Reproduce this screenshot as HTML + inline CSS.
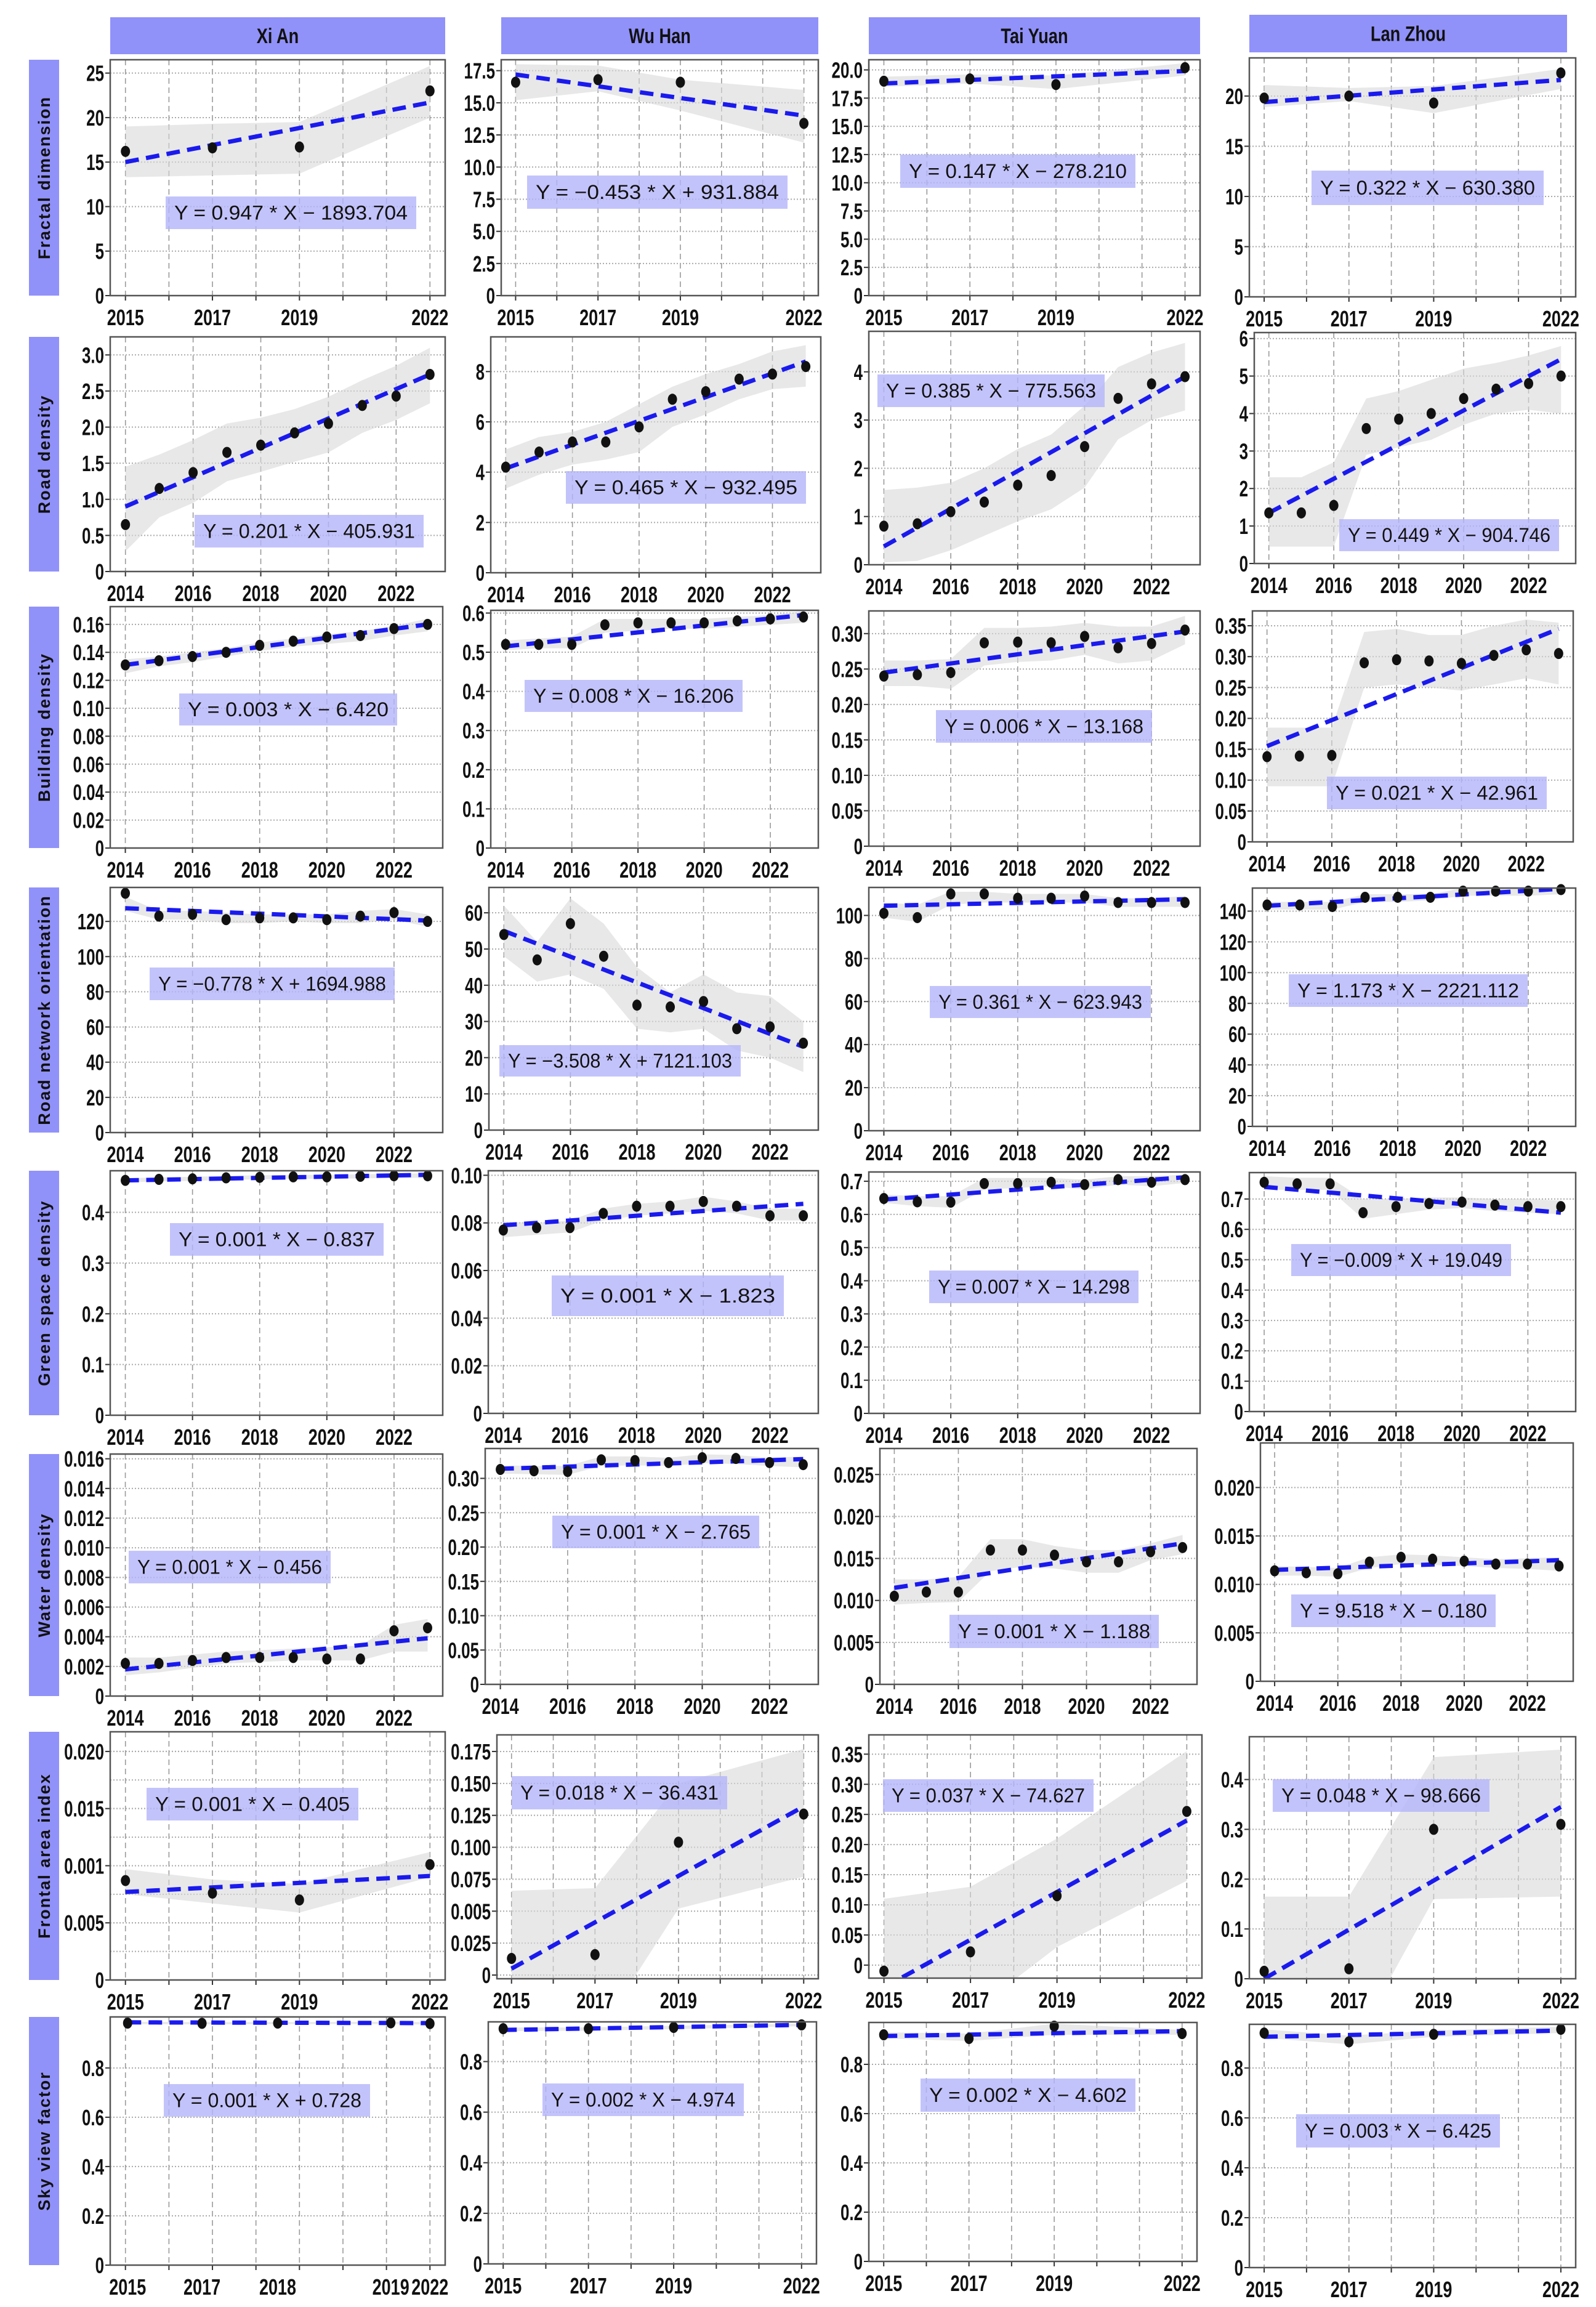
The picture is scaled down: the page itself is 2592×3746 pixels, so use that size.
<!DOCTYPE html>
<html><head><meta charset="utf-8"><title>Urban form indicators trends</title>
<style>
html,body{margin:0;padding:0;background:#fff;}
svg{display:block;}
.tk{font-family:"Liberation Sans",sans-serif;font-weight:bold;font-size:36px;fill:#111;}
.eq{font-family:"Liberation Sans",sans-serif;font-size:32px;fill:#111;}
.hd{font-family:"Liberation Sans",sans-serif;font-size:34px;fill:#111;font-weight:bold;}
.rl{font-family:"Liberation Sans","DejaVu Sans",sans-serif;font-size:27px;font-weight:bold;fill:#111;letter-spacing:2px;}
</style></head>
<body>
<svg id="fig" xmlns="http://www.w3.org/2000/svg" width="2592" height="3746" viewBox="0 0 2592 3746"></svg>
<script>
// ---------- data ----------
const cities = ['Xi An','Wu Han','Tai Yuan','Lan Zhou'];
const rowTitles = ['Fractal dimension','Road density','Building density','Road network orientation','Green space density','Water density','Frontal area index','Sky view factor'];
const yearsA = [2015,2017,2019,2022];
const yearsB = [2014,2015,2016,2017,2018,2019,2020,2021,2022,2023];
const yearTicksA = ['2015','2017','2019','2022'];
const yearTicksB = ['2014','2016','2018','2020','2022'];

// Fractal dimension
const fractalValues = [[16.2,16.6,16.7,23.0],[16.6,16.8,16.6,13.4],[19.0,19.2,18.7,20.2],[19.8,20.0,19.3,22.3]];
const fractalFit = [[15.0,21.7],[17.2,14.0],[18.8,19.9],[19.4,21.6]];
const fractalUpper = [[19.0,19.3,19.5,25.8],[18.0,17.9,16.8,16.0],[19.4,19.6,19.5,20.6],[21.1,20.8,21.0,22.7]];
const fractalLower = [[13.3,13.5,13.7,20.0],[15.2,15.9,14.4,11.9],[18.5,18.8,18.3,19.5],[18.9,19.5,18.3,20.7]];
const fractalEq = ['Y = 0.947 * X − 1893.704','Y = −0.453 * X + 931.884','Y = 0.147 * X − 278.210','Y = 0.322 * X − 630.380'];
const fractalTicks = [['0','5','10','15','20','25'],['0','2.5','5.0','7.5','10.0','12.5','15.0','17.5'],['0','2.5','5.0','7.5','10.0','12.5','15.0','17.5','20.0'],['0','5','10','15','20']];

// Road density
const roadValues = [[0.65,1.15,1.37,1.65,1.75,1.92,2.05,2.30,2.43,2.73],[4.2,4.8,5.2,5.2,5.8,6.9,7.2,7.7,7.9,8.2],[0.8,0.85,1.1,1.3,1.65,1.85,2.45,3.45,3.75,3.9],[1.35,1.35,1.55,3.6,3.85,4.0,4.4,4.65,4.8,5.0]];
const roadFit = [[0.90,2.73],[4.15,8.4],[0.38,3.9],[1.35,5.45]];
const roadUpper = [[1.45,1.62,1.82,2.05,2.13,2.25,2.42,2.65,2.85,3.1],[4.9,5.4,5.6,6.0,6.7,7.4,7.9,8.3,8.8,9.05],[1.55,1.6,1.7,2.0,2.4,2.7,3.3,4.1,4.4,4.6],[2.3,2.3,2.7,4.4,4.6,4.9,5.2,5.35,5.55,5.8]];
const roadLower = [[0.28,0.75,0.95,1.25,1.38,1.52,1.65,1.92,2.1,2.33],[3.35,3.9,4.3,4.5,4.8,5.8,6.3,6.9,7.3,7.4],[0.05,0.08,0.3,0.6,0.9,1.15,1.6,2.6,3.0,3.2],[0.45,0.45,0.45,2.9,3.1,3.3,3.7,4.0,4.1,4.0]];
const roadEq = ['Y = 0.201 * X − 405.931','Y = 0.465 * X − 932.495','Y = 0.385 * X − 775.563','Y = 0.449 * X − 904.746'];
const roadTicks = [['0','0.5','1.0','1.5','2.0','2.5','3.0'],['0','2','4','6','8'],['0','1','2','3','4'],['0','1','2','3','4','5','6']];

// Building density
const buildValues = [[0.131,0.134,0.137,0.140,0.145,0.148,0.151,0.152,0.157,0.160],[0.52,0.52,0.52,0.57,0.575,0.575,0.575,0.58,0.585,0.59],[0.24,0.242,0.245,0.287,0.288,0.287,0.296,0.28,0.286,0.305],[0.138,0.139,0.14,0.29,0.295,0.293,0.289,0.302,0.311,0.305]];
const buildFit = [[0.131,0.160],[0.515,0.595],[0.245,0.303],[0.155,0.345]];
const buildUpper = [[0.135,0.137,0.140,0.143,0.147,0.150,0.153,0.155,0.159,0.164],[0.53,0.535,0.54,0.585,0.585,0.585,0.585,0.59,0.595,0.605],[0.262,0.262,0.264,0.308,0.308,0.31,0.315,0.31,0.31,0.325],[0.185,0.185,0.185,0.34,0.345,0.335,0.335,0.35,0.36,0.355]];
const buildLower = [[0.125,0.130,0.133,0.137,0.141,0.144,0.146,0.148,0.152,0.155],[0.505,0.51,0.51,0.55,0.555,0.56,0.56,0.565,0.57,0.575],[0.226,0.226,0.222,0.255,0.26,0.262,0.27,0.258,0.262,0.285],[0.09,0.09,0.09,0.25,0.255,0.25,0.245,0.255,0.265,0.255]];
const buildEq = ['Y = 0.003 * X − 6.420','Y = 0.008 * X − 16.206','Y = 0.006 * X − 13.168','Y = 0.021 * X − 42.961'];
const buildTicks = [['0','0.02','0.04','0.06','0.08','0.10','0.12','0.14','0.16'],['0','0.1','0.2','0.3','0.4','0.5','0.6'],['0','0.05','0.10','0.15','0.20','0.25','0.30'],['0','0.05','0.10','0.15','0.20','0.25','0.30','0.35']];

// Road network orientation
const orientValues = [[136,123,124,121,122,122,121,123,125,120],[54,47,57,48,34.5,34,35.5,28,28.5,24],[101,99,110,110,108,108,109,106,106,106],[144,144,143,149,149,149,153,153,153,154]];
const orientFit = [[127.5,120.5],[55,23],[104.5,107.5],[143.5,154.5]];
const orientUpper = [[134,126,126,125,124,124,124,126,127,124],[62,52,64,57,45,38,43,38,37,30],[106,105,111,111,110,110,110,108,108,109],[146,146,146,151,151,151,155,155,155,157]];
const orientLower = [[126,121,121,119,119,120,119,119,121,117],[48,41,43,39,28,27,28,22,20,16],[99,97,105,106,106,106,106,104,104,104],[141,141,141,146,146,147,150,150,150,151]];
const orientEq = ['Y = −0.778 * X + 1694.988','Y = −3.508 * X + 7121.103','Y = 0.361 * X − 623.943','Y = 1.173 * X − 2221.112'];
const orientTicks = [['0','20','40','60','80','100','120'],['0','10','20','30','40','50','60'],['0','20','40','60','80','100'],['0','20','40','60','80','100','120','140']];

// Green space density
const greenValues = [[0.463,0.465,0.466,0.468,0.469,0.470,0.470,0.471,0.472,0.472],[0.077,0.078,0.078,0.084,0.087,0.087,0.089,0.087,0.083,0.083],[0.648,0.638,0.637,0.693,0.693,0.697,0.69,0.705,0.697,0.705],[0.755,0.75,0.75,0.655,0.675,0.685,0.69,0.68,0.675,0.675]];
const greenFit = [[0.463,0.474],[0.079,0.088],[0.645,0.712],[0.74,0.655]];
const greenUpper = [[0.467,0.469,0.470,0.472,0.473,0.474,0.474,0.475,0.476,0.477],[0.0805,0.080,0.081,0.086,0.088,0.089,0.091,0.089,0.086,0.086],[0.66,0.655,0.655,0.71,0.71,0.71,0.705,0.715,0.715,0.72],[0.775,0.77,0.77,0.70,0.70,0.705,0.705,0.70,0.70,0.695]];
const greenLower = [[0.459,0.461,0.462,0.464,0.465,0.466,0.466,0.467,0.468,0.468],[0.074,0.075,0.076,0.081,0.083,0.084,0.085,0.084,0.081,0.081],[0.635,0.625,0.62,0.675,0.68,0.685,0.675,0.69,0.685,0.695],[0.73,0.73,0.73,0.635,0.65,0.665,0.67,0.66,0.655,0.65]];
const greenEq = ['Y = 0.001 * X − 0.837','Y = 0.001 * X − 1.823','Y = 0.007 * X − 14.298','Y = −0.009 * X + 19.049'];
const greenTicks = [['0','0.1','0.2','0.3','0.4'],['0','0.02','0.04','0.06','0.08','0.10'],['0','0.1','0.2','0.3','0.4','0.5','0.6','0.7'],['0','0.1','0.2','0.3','0.4','0.5','0.6','0.7']];

// Water density
const waterValues = [[0.0022,0.0022,0.0024,0.0026,0.0026,0.0026,0.0025,0.0025,0.0044,0.0046],[0.313,0.311,0.31,0.327,0.326,0.323,0.33,0.329,0.323,0.32],[0.0105,0.011,0.011,0.016,0.016,0.0154,0.0146,0.0146,0.0158,0.0163],[0.0114,0.0112,0.0111,0.0123,0.0128,0.0126,0.0124,0.0121,0.0121,0.0119]];
const waterFit = [[0.0018,0.0039],[0.314,0.328],[0.0115,0.0168],[0.0115,0.0125]];
const waterUpper = [[0.0026,0.0026,0.0028,0.0030,0.0031,0.0032,0.0033,0.0034,0.0048,0.0052],[0.319,0.318,0.318,0.332,0.332,0.330,0.335,0.334,0.330,0.332],[0.0125,0.0125,0.0128,0.0173,0.0173,0.0165,0.016,0.016,0.0168,0.0178],[0.0119,0.0118,0.0117,0.0128,0.0131,0.0130,0.0128,0.0126,0.0127,0.0128]];
const waterLower = [[0.0014,0.0016,0.0019,0.0022,0.0023,0.0024,0.0024,0.0024,0.0030,0.0030],[0.307,0.306,0.305,0.318,0.319,0.318,0.322,0.321,0.318,0.316],[0.0095,0.0097,0.0098,0.0135,0.014,0.0138,0.0133,0.0133,0.0148,0.0155],[0.0109,0.0109,0.0108,0.0117,0.0121,0.0120,0.0119,0.0117,0.0116,0.0114]];
const waterEq = ['Y = 0.001 * X − 0.456','Y = 0.001 * X − 2.765','Y = 0.001 * X − 1.188','Y = 9.518 * X − 0.180'];
const waterTicks = [['0','0.002','0.004','0.006','0.008','0.010','0.012','0.014','0.016'],['0','0.05','0.10','0.15','0.20','0.25','0.30'],['0','0.005','0.010','0.015','0.020','0.025'],['0','0.005','0.010','0.015','0.020']];

// Frontal area index
const faiValues = [[0.0087,0.0076,0.0070,0.0101],[0.013,0.016,0.104,0.126],[-0.010,0.022,0.115,0.255],[0.015,0.020,0.30,0.31]];
const faiFit = [[0.0077,0.0091],[0.005,0.132],[-0.037,0.24],[0.0,0.345]];
const faiUpper = [[0.0097,0.0088,0.0084,0.0112],[0.066,0.068,0.150,0.177],[0.11,0.13,0.21,0.355],[0.165,0.165,0.445,0.46]];
const faiLower = [[0.0075,0.0067,0.0059,0.0090],[-0.07,-0.05,0.052,0.077],[-0.15,-0.08,0.03,0.14],[-0.15,-0.15,0.16,0.165]];
const faiEq = ['Y = 0.001 * X − 0.405','Y = 0.018 * X − 36.431','Y = 0.037 * X − 74.627','Y = 0.048 * X − 98.666'];
const faiTicks = [['0','0.005','0.001','0.015','0.020'],['0','0.025','0.005','0.075','0.100','0.125','0.150','0.175'],['0','0.05','0.10','0.15','0.20','0.25','0.30','0.35'],['0','0.1','0.2','0.3','0.4']];
const faiTickValues = [[0,0.005,0.010,0.015,0.020],[0,0.025,0.05,0.075,0.100,0.125,0.150,0.175],null,null];

// Sky view factor
const svfYears = [[2015.05,2016.76,2018.5,2021.1,2022],yearsA,yearsA,yearsA];
const svfYearLabels = [['2015','2017','2018','2019','2022'],yearTicksA,yearTicksA,yearTicksA];
const svfValues = [[0.982,0.981,0.982,0.983,0.980],[0.93,0.93,0.935,0.945],[0.92,0.905,0.955,0.925],[0.94,0.905,0.935,0.955]];
const svfFit = [[0.985,0.982],[0.925,0.945],[0.915,0.935],[0.925,0.95]];
const svfUpper = [[0.987,0.986,0.986,0.987,0.986],[0.935,0.935,0.942,0.95],[0.93,0.925,0.965,0.94],[0.955,0.93,0.95,0.965]];
const svfLower = [[0.978,0.977,0.978,0.978,0.976],[0.92,0.922,0.928,0.94],[0.905,0.895,0.92,0.92],[0.92,0.895,0.925,0.94]];
const svfEq = ['Y = 0.001 * X + 0.728','Y = 0.002 * X − 4.974','Y = 0.002 * X − 4.602','Y = 0.003 * X − 6.425'];
const svfTicks = [['0','0.2','0.4','0.6','0.8'],['0','0.2','0.4','0.6','0.8'],['0','0.2','0.4','0.6','0.8'],['0','0.2','0.4','0.6','0.8']];

// ---------- layout (pixel geometry, not data) ----------
const colX = [
 [[179,723],[814,1329],[1411,1949],[2029,2559]],
 [[179,723],[797,1333],[1411,1949],[2037,2559]],
 [[179,719],[797,1329],[1411,1949],[2034,2555]],
 [[179,719],[794,1329],[1411,1949],[2034,2559]],
 [[179,719],[793,1329],[1411,1949],[2029,2559]],
 [[179,719],[788,1329],[1429,1944],[2047,2555]],
 [[179,723],[807,1329],[1411,1952],[2029,2559]],
 [[179,723],[793,1326],[1411,1944],[2029,2559]]];
const rowY = [
 [[97,480],[97,480],[97,480],[94,482]],
 [[547,928],[547,930],[538,917],[540,915]],
 [[985,1377],[991,1377],[992,1374],[992,1367]],
 [[1441,1839],[1441,1835],[1441,1836],[1442,1829]],
 [[1901,2298],[1901,2295],[1903,2295],[1904,2292]],
 [[2361,2754],[2352,2735],[2352,2735],[2343,2730]],
 [[2812,3215],[2817,3213],[2817,3212],[2820,3213]],
 [[3275,3678],[3283,3676],[3284,3672],[3287,3682]]];
const yDom = [
 [[0,26.5],[0,18.35],[0,20.9],[0,23.8]],
 [[0,3.25],[0,9.38],[0,4.84],[0,6.16]],
 [[0,0.1727],[0,0.607],[0,0.332],[0,0.374]],
 [[0,139.3],[0,67],[0,113],[0,155]],
 [[0,0.482],[0,0.1019],[0,0.728],[0,0.787]],
 [[0,0.01632],[0,0.3435],[0,0.0281],[0,0.0246]],
 [[0,0.02172],[-0.0029,0.188],[-0.0216,0.382],[0,0.486]],
 [[0,1.007],[0,0.957],[0,0.97],[0,0.975]]];
const eqBox = [
 [[269,319,676,372],[856,285,1279,339],[1462,251,1844,305],[2130,277,2507,333]],
 [[316,836,688,889],[919,765,1309,818],[1425,608,1794,661],[2175,843,2532,895]],
 [[291,1126,645,1178],[852,1104,1206,1156],[1520,1153,1871,1206],[2155,1261,2512,1314]],
 [[243,1571,641,1624],[811,1697,1203,1748],[1510,1601,1869,1653],[2093,1582,2481,1635]],
 [[276,1986,623,2039],[896,2071,1273,2137],[1509,2063,1849,2116],[2097,2020,2454,2072]],
 [[209,2518,537,2571],[897,2461,1233,2514],[1542,2622,1882,2676],[2097,2589,2429,2642]],
 [[238,2903,582,2956],[831,2884,1181,2938],[1434,2889,1776,2942],[2067,2889,2419,2942]],
 [[266,3384,601,3437],[881,3383,1208,3436],[1495,3375,1844,3429],[2105,3433,2436,3487]]];
const headerBoxes = [[179,28,723,88],[814,28,1329,88],[1411,28,1949,88],[2029,24,2545,85]];

const rows = [
 {key:'fractal', v:fractalValues, f:fractalFit, u:fractalUpper, l:fractalLower, eq:fractalEq, t:fractalTicks, tv:[null,null,null,null], yrs:[yearsA,yearsA,yearsA,yearsA], xl:[yearsA,yearsA,yearsA,yearsA], xlab:[yearTicksA,yearTicksA,yearTicksA,yearTicksA], grid:1},
 {key:'road', v:roadValues, f:roadFit, u:roadUpper, l:roadLower, eq:roadEq, t:roadTicks, tv:[null,null,null,null], yrs:[yearsB,yearsB,yearsB,yearsB], xl:null, xlab:null, grid:2},
 {key:'building', v:buildValues, f:buildFit, u:buildUpper, l:buildLower, eq:buildEq, t:buildTicks, tv:[null,null,null,null], yrs:[yearsB,yearsB,yearsB,yearsB], xl:null, xlab:null, grid:2},
 {key:'orientation', v:orientValues, f:orientFit, u:orientUpper, l:orientLower, eq:orientEq, t:orientTicks, tv:[null,null,null,null], yrs:[yearsB,yearsB,yearsB,yearsB], xl:null, xlab:null, grid:2},
 {key:'green', v:greenValues, f:greenFit, u:greenUpper, l:greenLower, eq:greenEq, t:greenTicks, tv:[null,null,null,null], yrs:[yearsB,yearsB,yearsB,yearsB], xl:null, xlab:null, grid:2},
 {key:'water', v:waterValues, f:waterFit, u:waterUpper, l:waterLower, eq:waterEq, t:waterTicks, tv:[null,null,null,null], yrs:[yearsB,yearsB,yearsB,yearsB], xl:null, xlab:null, grid:2},
 {key:'fai', v:faiValues, f:faiFit, u:faiUpper, l:faiLower, eq:faiEq, t:faiTicks, tv:faiTickValues, yrs:[yearsA,yearsA,yearsA,yearsA], xl:[yearsA,yearsA,yearsA,yearsA], xlab:[yearTicksA,yearTicksA,yearTicksA,yearTicksA], grid:1, minor:[0.0025,null,null,null]},
 {key:'svf', v:svfValues, f:svfFit, u:svfUpper, l:svfLower, eq:svfEq, t:svfTicks, tv:[null,null,null,null], yrs:svfYears, xl:svfYears, xlab:svfYearLabels, grid:1, xr:[2015,2022]}
];

// ---------- drawing ----------
const NS = 'http://www.w3.org/2000/svg';
const svg = document.getElementById('fig');
function mk(tag, attrs, parent){
  const el = document.createElementNS(NS, tag);
  for (const k in attrs) el.setAttribute(k, attrs[k]);
  parent.appendChild(el);
  return el;
}
// condensed text: scale horizontally around anchor point
function ctext(parent, x, y, anchor, cls, sxScale, str){
  const tg = mk('g',{transform:'translate('+x+','+y+') scale('+sxScale+',1)'},parent);
  const t = mk('text',{x:0,y:0,'text-anchor':anchor,class:cls},tg);
  t.textContent = str;
  return t;
}

cities.forEach((c,i)=>{
  const b = headerBoxes[i];
  const r = mk('rect',{x:b[0],y:b[1],width:b[2]-b[0],height:b[3]-b[1],fill:'#9191fa'},svg);
  
  
  const t = ctext(svg,(b[0]+b[2])/2,(b[1]+b[3])/2+12,'middle','hd',0.8,c);
  
  
});

rows.forEach((row,ri)=>{
  const ry = rowY[ri][0];
  const rb = mk('rect',{x:47,y:ry[0],width:49,height:ry[1]-ry[0],fill:'#9191fa'},svg);
  
  
  const cy = (ry[0]+ry[1])/2;
  const rt = mk('text',{x:81,y:cy,'text-anchor':'middle',class:'rl',transform:'rotate(-90 81 '+cy+')'},svg);
  rt.textContent = rowTitles[ri];
  
  

  for (let ci=0; ci<4; ci++){
    const [x0,x1] = colX[ri][ci];
    const [yt,yb] = rowY[ri][ci];
    const [ymin,ymax] = yDom[ri][ci];
    const yrs = row.yrs[ci];
    const xa = row.xr ? row.xr[0] : yrs[0];
    const xb = row.xr ? row.xr[1] : yrs[yrs.length-1];
    const pad = (xb-xa)*0.05;
    const xmin = xa-pad, xmax = xb+pad;
    const sx = v => x0 + (v-xmin)/(xmax-xmin)*(x1-x0);
    const sy = v => yb - (v-ymin)/(ymax-ymin)*(yb-yt);

    const g = mk('g',{},svg);
    
    
    const cid = 'clip'+ri+'_'+ci;
    const cp = mk('clipPath',{id:cid},g);
    mk('rect',{x:x0,y:yt,width:x1-x0,height:yb-yt},cp);

    const gs = Math.ceil(xa);
    for (let yr=gs; yr<=Math.floor(xb); yr+=row.grid){
      const gl = mk('line',{x1:sx(yr),x2:sx(yr),y1:yt,y2:yb,stroke:'#9a9a9a','stroke-width':1.6,'stroke-dasharray':'9 6'},g);
      
      
      const tm = mk('line',{x1:sx(yr),x2:sx(yr),y1:yb,y2:yb+8,stroke:'#333','stroke-width':2},g);
      
      
    }
    const labs = row.t[ci];
    const vals = row.tv[ci] || labs.map(parseFloat);
    if (row.minor && row.minor[ci]){
      for (let k=1; k*row.minor[ci] < ymax; k++){
        const v = k*row.minor[ci];
        const ml = mk('line',{x1:x0,x2:x1,y1:sy(v),y2:sy(v),stroke:'#aaa','stroke-width':2,'stroke-dasharray':'2 3'},g);
        
        
      }
    }
    labs.forEach((lab,k)=>{
      const yy = sy(vals[k]);
      const hl = mk('line',{x1:x0,x2:x1,y1:yy,y2:yy,stroke:'#aaa','stroke-width':2,'stroke-dasharray':'2 3'},g);
      
      
      const tm = mk('line',{x1:x0-8,x2:x0,y1:yy,y2:yy,stroke:'#333','stroke-width':2},g);
      
      
      const tt = ctext(g,x0-10,yy+13,'end','tk',0.72,lab);
      
      
    });

    const up = row.u[ci], lo = row.l[ci], vs = row.v[ci];
    let pts = yrs.map((y,k)=>sx(y)+','+sy(up[k]));
    pts = pts.concat(yrs.map((y,k)=>sx(y)+','+sy(lo[k])).reverse());
    const band = mk('polygon',{points:pts.join(' '),fill:'#d9d9d9','fill-opacity':0.6,'clip-path':'url(#'+cid+')'},g);
    
    

    const ft = row.f[ci];
    const fl = mk('line',{x1:sx(yrs[0]),y1:sy(ft[0]),x2:sx(yrs[yrs.length-1]),y2:sy(ft[1]),stroke:'#1a1aee','stroke-width':7,'stroke-dasharray':'22 12','clip-path':'url(#'+cid+')'},g);
    
    

    yrs.forEach((y,k)=>{
      const p = mk('ellipse',{cx:sx(y),cy:sy(vs[k]),rx:7.5,ry:9,fill:'#111'},g);
      
      
    });

    const fr = mk('rect',{x:x0,y:yt,width:x1-x0,height:yb-yt,fill:'none',stroke:'#555','stroke-width':2.5},g);
    
    

    let xlPos, xlLab;
    if (row.xl){ xlPos = row.xl[ci]; xlLab = row.xlab[ci]; }
    else { xlPos = yearTicksB.map(Number); xlLab = yearTicksB; }
    xlPos.forEach((p,k)=>{
      const xt = ctext(g,sx(p),yb+48,'middle','tk',0.75,xlLab[k]);
      
      
    });

    const eb = eqBox[ri][ci];
    const er = mk('rect',{x:eb[0],y:eb[1],width:eb[2]-eb[0],height:eb[3]-eb[1],fill:'#b4b4fa','fill-opacity':0.8},g);
    
    
    const et = mk('text',{x:eb[0]+14,y:(eb[1]+eb[3])/2+11,class:'eq',textLength:(eb[2]-eb[0]-28),lengthAdjust:'spacingAndGlyphs'},g);
    et.textContent = row.eq[ci];
    
    
  }
});
</script>
</body></html>
